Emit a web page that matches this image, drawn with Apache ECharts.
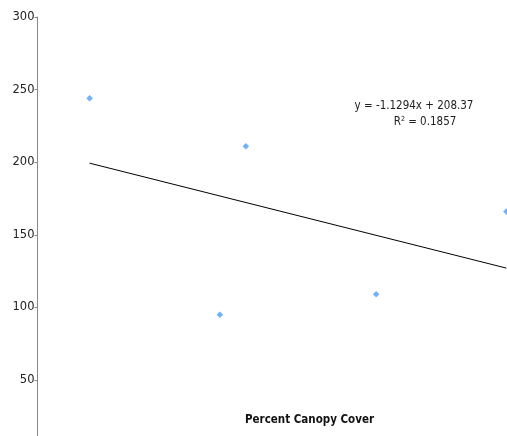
<!DOCTYPE html>
<html><head><meta charset="utf-8">
<script src="https://cdn.jsdelivr.net/npm/echarts@6/dist/echarts.min.js"></script>
<style>html,body{margin:0;padding:0;background:#fff}#c{width:507px;height:436px}</style>
</head><body><div id="c"></div>
<script>
var canopyX = [8, 28, 32, 52, 72];
var valuesY = [244, 95, 211, 109, 166];
var trendX = [8, 72];
var trendY = [199.33, 127.05];
var yTicks = [50, 100, 150, 200, 250, 300];
var equationText = 'y = -1.1294x + 208.37';
var r2Value = '0.1857';
var xTitle = 'Percent Canopy Cover';

var chart = echarts.init(document.getElementById('c'));
chart.setOption({
  animation: false,
  grid: {left: 37.5, width: 521, top: 17, bottom: -16.6, outerBoundsMode: 'none', containLabel: false},
  xAxis: {type: 'value', min: 0, max: 80, show: false},
  yAxis: {
    type: 'value', min: 0, max: 300, interval: 50,
    axisLine: {show: true, lineStyle: {color: '#888', width: 1}},
    axisTick: {show: true, length: 3, lineStyle: {color: '#888'}},
    splitLine: {show: false},
    axisLabel: {
      margin: 3, color: '#222', fontFamily: 'DejaVu Sans', fontSize: 11.5,
      formatter: function (v) { return yTicks.indexOf(v) >= 0 ? String(v) : ''; }
    }
  },
  series: [
    {type: 'scatter', symbol: 'diamond', symbolSize: 6.5,
     itemStyle: {color: '#4d9ef5'},
     data: canopyX.map(function (x, i) { return [x, valuesY[i]]; })},
    {type: 'line', symbol: 'none', lineStyle: {color: '#000', width: 1},
     data: trendX.map(function (x, i) { return [x, trendY[i]]; })}
  ],
  graphic: [
    {type: 'text', x: 414, y: 106, style: {text: equationText, fill: '#222', font: '11.5px "DejaVu Sans Condensed", "DejaVu Sans"', align: 'center', verticalAlign: 'middle'}},
    {type: 'text', x: 425, y: 122, style: {
      text: '{r|R}{s|2}{r| = ' + r2Value + '}',
      align: 'center', verticalAlign: 'middle',
      rich: {
        r: {fill: '#222', fontSize: 11.5, fontFamily: '"DejaVu Sans Condensed", "DejaVu Sans"'},
        s: {fill: '#222', fontSize: 7, fontFamily: '"DejaVu Sans Condensed", "DejaVu Sans"', verticalAlign: 'top', padding: [0, 0, 6, 0]}
      }
    }},
    {type: 'text', x: 309.5, y: 420, style: {text: xTitle, fill: '#111', font: 'bold 11.5px "DejaVu Sans Condensed", "DejaVu Sans"', align: 'center', verticalAlign: 'middle'}}
  ]
});
</script></body></html>
